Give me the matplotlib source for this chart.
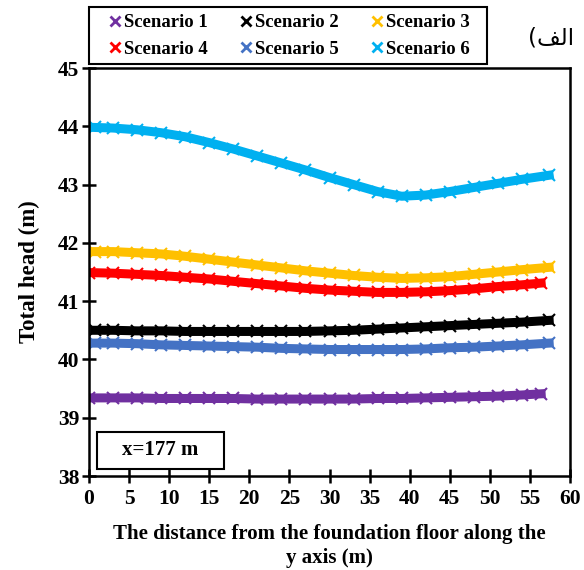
import matplotlib.pyplot as plt
from matplotlib.lines import Line2D
from matplotlib.patches import Rectangle

plt.rcParams['font.family'] = ['Liberation Serif', 'DejaVu Serif']
plt.rcParams['font.weight'] = 'bold'

# distance along y axis (m)
x_long = [0.7, 3, 6, 9, 12, 15, 18, 21, 24, 27, 30, 33, 36, 39, 42, 45, 48, 51, 54, 57.4]
x_short = [0, 3, 6, 9, 12, 15, 18, 21, 24, 27, 30, 33, 36, 39, 42, 45, 48, 51, 54, 56.4]

# total head (m)
s1 = [39.34, 39.34, 39.34, 39.33, 39.33, 39.33, 39.33, 39.32, 39.32, 39.32,
      39.32, 39.32, 39.33, 39.33, 39.34, 39.35, 39.36, 39.37, 39.39, 39.41]
s2 = [40.50, 40.50, 40.49, 40.49, 40.48, 40.48, 40.48, 40.48, 40.48, 40.48,
      40.49, 40.50, 40.52, 40.54, 40.56, 40.58, 40.60, 40.62, 40.64, 40.67]
s3 = [41.85, 41.85, 41.83, 41.81, 41.77, 41.72, 41.67, 41.62, 41.57, 41.52,
      41.48, 41.44, 41.41, 41.39, 41.40, 41.42, 41.46, 41.50, 41.54, 41.58]
s4 = [41.49, 41.48, 41.46, 41.44, 41.41, 41.38, 41.34, 41.30, 41.26, 41.22,
      41.19, 41.17, 41.15, 41.15, 41.16, 41.18, 41.21, 41.25, 41.28, 41.31]
s5 = [40.28, 40.28, 40.27, 40.25, 40.24, 40.23, 40.22, 40.21, 40.19, 40.18,
      40.17, 40.17, 40.17, 40.17, 40.18, 40.20, 40.21, 40.23, 40.25, 40.28]
s6 = [43.98, 43.97, 43.94, 43.89, 43.82, 43.72, 43.61, 43.49, 43.37, 43.25,
      43.12, 43.00, 42.88, 42.80, 42.82, 42.88, 42.95, 43.02, 43.09, 43.16]

names = ['Scenario 1', 'Scenario 2', 'Scenario 3', 'Scenario 4', 'Scenario 5', 'Scenario 6']
colors = ['#7030A0', '#000000', '#FFC000', '#FF0000', '#4472C4', '#00B0F0']
xs = [x_short, x_long, x_long, x_short, x_long, x_long]
ys = [s1, s2, s3, s4, s5, s6]

fig = plt.figure(figsize=(5.84, 5.70), dpi=100)
ax = fig.add_axes([89 / 584, 94 / 570, 481 / 584, 408 / 570])

for x, y, c in zip(xs, ys, colors):
    ax.plot(x, y, color=c, linewidth=6.5, marker='x', markersize=8, markeredgewidth=1.5)

ax.set_xlim(0, 60)
ax.set_ylim(38, 45)
ax.set_xticks(range(0, 61, 5))
ax.set_yticks(range(38, 46))
ax.tick_params(direction='inout', length=10, width=1.8, labelsize=15.5)
ax.tick_params(axis='x', pad=4)
ax.tick_params(axis='y', pad=2)
for sp in ax.spines.values():
    sp.set_linewidth(1.8)

ax.set_xlabel('The distance from the foundation floor along the\ny axis (m)',
              fontsize=15, fontweight='bold', labelpad=11, linespacing=1.3)
ax.set_ylabel('Total head (m)', fontsize=16.5, fontweight='bold', labelpad=13)

# x=177 m box
ax.add_patch(Rectangle((0.017, 0.017), 0.264, 0.091, transform=ax.transAxes,
                       fill=False, edgecolor='black', linewidth=1.5))
ax.text(0.149, 0.063, 'x=177 m', transform=ax.transAxes, ha='center', va='center',
        fontsize=15, fontweight='bold')

# legend, row-wise order, frame drawn separately
handles = [Line2D([], [], color=c, marker='x', linestyle='none', markersize=7,
                  markeredgewidth=2) for c in colors]
order = [0, 3, 1, 4, 2, 5]
fig.legend([handles[i] for i in order], [names[i] for i in order],
           loc='upper left', bbox_to_anchor=(109.4 / 584, 1 - 14 / 570), ncol=3,
           fontsize=13.5, frameon=False, borderpad=0, borderaxespad=0,
           handlelength=0.6, handletextpad=0.18, columnspacing=1.75,
           labelspacing=0.5)
fig.patches.append(Rectangle((89 / 584, 1 - 63.5 / 570), 398 / 584, 56.5 / 570,
                             transform=fig.transFigure, fill=False,
                             edgecolor='black', linewidth=1.5))

# Arabic label "الف)" written in visual order with presentation forms
fig.text(551 / 584, 1 - 38 / 570, '(\uFED2\uFEDF\uFE8D', ha='center', va='center',
         fontsize=16.5, family=['DejaVu Sans'], fontweight='normal')

fig.savefig('out.png', dpi=100)
